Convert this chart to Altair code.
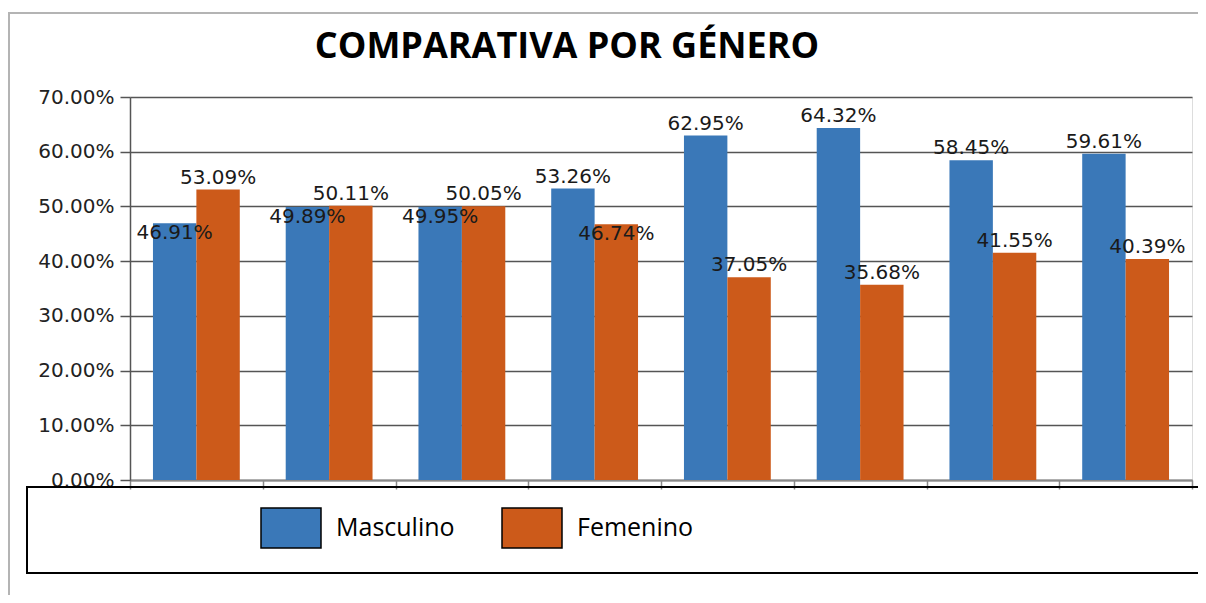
import altair as alt
import pandas as pd

# ---- data ----
grupos = ["1", "2", "3", "4", "5", "6", "7", "8"]
generos = ["Masculino", "Femenino"]
masculino = [46.91, 49.89, 49.95, 53.26, 62.95, 64.32, 58.45, 59.61]
femenino = [53.09, 50.11, 50.05, 46.74, 37.05, 35.68, 41.55, 40.39]
y_ticks = [0.0, 0.1, 0.2, 0.3, 0.4, 0.5, 0.6, 0.7]
colores_barras = ["#3a78b8", "#cc5a1a"]
colores_leyenda = ["#5b9bd5", "#ee8208"]
titulo = "COMPARATIVA POR GÉNERO"

rows = []
for g, m, f in zip(grupos, masculino, femenino):
    rows.append({"grupo": g, "genero": "Masculino", "valor": m / 100})
    rows.append({"grupo": g, "genero": "Femenino", "valor": f / 100})
df = pd.DataFrame(rows)

W, H = 1062, 383

x_enc = alt.X(
    "grupo:N", sort=grupos,
    scale=alt.Scale(paddingInner=0, paddingOuter=0),
    axis=alt.Axis(labels=False, title=None, tickBand="extent", tickSize=9,
                  domainColor="#8a8a8a", tickColor="#8a8a8a", domainWidth=2,
                  tickWidth=1.5, grid=False),
)
xo_enc = alt.XOffset("genero:N", sort=generos,
                     scale=alt.Scale(domain=generos, paddingInner=0, paddingOuter=0.529))
y_enc = alt.Y(
    "valor:Q",
    scale=alt.Scale(domain=[0, 0.7], nice=False),
    axis=alt.Axis(format=".2%", values=y_ticks, title=None,
                  domainColor="#555555", domainWidth=1.5,
                  tickColor="#555555", tickSize=10, tickWidth=1.5,
                  gridColor="#555555", gridWidth=1.5,
                  labelFont="DejaVu Sans", labelFontSize=20, labelColor="#222222",
                  labelPadding=6),
)

base = alt.Chart(df)

# decorative frames
marco = base.mark_rect(fill=None, stroke="#b4b4b4", strokeWidth=2).encode(
    x=alt.value(-121), x2=alt.value(1120), y=alt.value(-84), y2=alt.value(620)
)
caja_leyenda = base.mark_rect(fill=None, stroke="black", strokeWidth=2).encode(
    x=alt.value(-103), x2=alt.value(1120), y=alt.value(390), y2=alt.value(476)
)

titulo_txt = alt.Chart(pd.DataFrame({"t": [titulo]})).mark_text(
    font="Open Sans", fontSize=36, fontWeight="bold", color="black",
    baseline="alphabetic", align="center"
).encode(text="t:N", x=alt.value(437), y=alt.value(-39))

etiquetas = base.transform_joinaggregate(
    vmax="max(valor)", vmin="min(valor)", groupby=["grupo"]
).transform_calculate(
    dentro="datum.valor == datum.vmin && (datum.vmax - datum.vmin) < 0.1"
)

texto_arriba = etiquetas.transform_filter("!datum.dentro").mark_text(
    font="DejaVu Sans", fontSize=20, baseline="alphabetic", dy=-6, color="#1a1a1a"
).encode(x=x_enc, xOffset=xo_enc, y=y_enc, text=alt.Text("valor:Q", format=".2%"))

texto_dentro = etiquetas.transform_filter("datum.dentro").mark_text(
    font="DejaVu Sans", fontSize=20, baseline="alphabetic", dy=16, color="#1a1a1a"
).encode(x=x_enc, xOffset=xo_enc, y=y_enc, text=alt.Text("valor:Q", format=".2%"))

legend_kwargs = dict(
    title=None, orient="none", legendX=140, legendY=410, direction="horizontal",
    symbolType="M-1.5,-1H1.5V1H-1.5Z", symbolSize=1600,
    symbolStrokeColor="black", symbolStrokeWidth=1.5, symbolOpacity=1,
    labelFont="Open Sans", labelFontSize=25, labelColor="black",
    labelOffset=24, columnPadding=44, padding=0,
)
test_masc = f"datum.value === '{generos[0]}'"
encodes = [
    {"symbols": {"fill": {"condition": {"test": test_masc, "value": colores_leyenda[0]},
                          "value": colores_leyenda[1]}}},
    {"symbols": {"fill": {"value": {"expr": f"{test_masc} ? '{colores_leyenda[0]}' : '{colores_leyenda[1]}'"}}}},
    None,
]


def build(enc):
    kw = dict(legend_kwargs)
    if enc is not None:
        kw["encode"] = enc
    barras = base.mark_bar().encode(
        x=x_enc, xOffset=xo_enc, y=y_enc,
        color=alt.Color("genero:N", scale=alt.Scale(domain=generos, range=colores_barras),
                        legend=alt.Legend(**kw)),
    )
    return alt.layer(marco, caja_leyenda, titulo_txt, barras, texto_arriba, texto_dentro).properties(
        width=W, height=H,
        autosize=alt.AutoSizeParams(type="none"),
        padding={"left": 122, "top": 89, "right": 6, "bottom": 115},
    ).configure_view(
        fill="#d9d9d9", stroke="#a6a6a6", strokeWidth=1.5
    ).configure(background="white")


chart = None
for enc in encodes:
    try:
        chart = build(enc)
        chart.to_dict()
        break
    except Exception:
        chart = None
if chart is None:
    chart = build(None)

chart.save("out.html", embed_options={"renderer": "svg", "actions": False})
